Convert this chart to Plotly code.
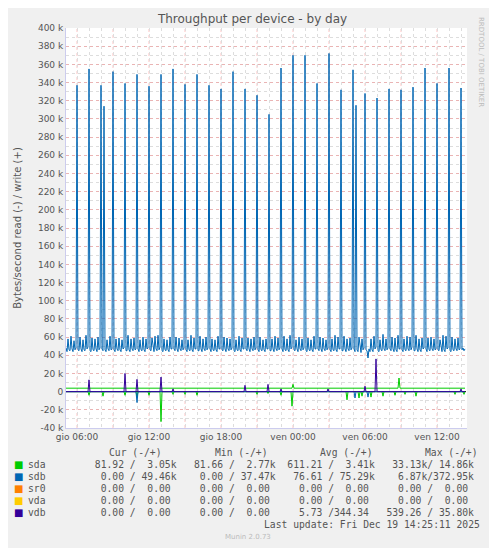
import plotly.graph_objects as go

# 5-minute samples, index 0 = gio 05:05 ; values in k (bytes/s / 1000)
sdb_write = [
    48, 44, 58, 46, 45, 61, 47, 44, 56, 46, 48, 337,
    46, 45, 60, 47, 44, 57, 46, 45, 62, 47, 49, 355,
    45, 44, 59, 46, 45, 58, 47, 44, 60, 46, 48, 337,
    47, 45, 314, 46, 44, 57, 47, 45, 61, 46, 47, 352,
    46, 44, 58, 47, 45, 59, 46, 44, 57, 47, 48, 339,
    45, 45, 62, 46, 44, 58, 47, 45, 59, 46, 47, 349,
    47, 44, 57, 46, 45, 60, 46, 44, 58, 47, 48, 336,
    46, 45, 59, 47, 44, 61, 47, 45, 62, 46, 49, 349,
    45, 44, 58, 46, 45, 57, 46, 44, 60, 47, 47, 355,
    47, 45, 60, 47, 44, 59, 47, 45, 57, 46, 48, 338,
    46, 44, 57, 46, 45, 62, 46, 44, 59, 47, 47, 349,
    45, 45, 61, 47, 44, 58, 47, 45, 60, 46, 48, 337,
    47, 44, 58, 46, 45, 57, 46, 44, 61, 47, 47, 333,
    46, 45, 60, 47, 44, 59, 47, 45, 58, 46, 48, 352,
    45, 44, 57, 46, 45, 61, 46, 44, 59, 47, 47, 333,
    47, 45, 59, 47, 44, 58, 47, 45, 60, 46, 48, 326,
    46, 44, 60, 46, 45, 57, 46, 44, 58, 47, 47, 305,
    45, 45, 58, 47, 44, 61, 47, 45, 59, 46, 48, 356,
    47, 44, 61, 46, 45, 58, 46, 44, 62, 47, 49, 370,
    46, 45, 57, 47, 44, 60, 47, 45, 58, 46, 48, 370,
    45, 44, 59, 46, 45, 57, 46, 44, 61, 47, 47, 339,
    47, 45, 60, 47, 44, 59, 47, 45, 57, 46, 48, 372,
    46, 44, 58, 46, 45, 62, 46, 44, 60, 47, 47, 332,
    45, 45, 61, 47, 44, 58, 47, 45, 59, 46, 48, 354,
    47, 44, 315, 46, 44, 60, 47, 43, 58, 46, 48, 328,
    46, 45, 37, 47, 44, 58, 46, 44, 61, 47, 49, 323,
    45, 44, 57, 46, 45, 63, 47, 45, 58, 46, 48, 333,
    47, 45, 60, 47, 44, 59, 46, 44, 62, 47, 47, 332,
    46, 44, 58, 46, 45, 61, 47, 45, 60, 46, 49, 335,
    45, 45, 62, 47, 44, 58, 46, 44, 59, 47, 48, 356,
    47, 44, 59, 46, 45, 60, 47, 45, 58, 46, 47, 339,
    46, 45, 57, 47, 44, 62, 46, 44, 61, 47, 48, 356,
    45, 44, 60, 46, 45, 58, 47, 45, 59, 46, 47, 334,
    46, 48, 45, 47,
]
n = len(sdb_write)

sdb_read_idx = [71, 289, 302]
sdb_read_val = [-12, -7, -6]

sda_write_level = 3.8
sda_write_idx = [227, 333]
sda_write_val = [8, 15]
sda_read_idx = [23, 37, 59, 71, 83, 95, 107, 119, 131, 191, 202, 215, 226,
                281, 293, 296, 305, 317, 329, 339, 350, 389, 398]
sda_read_val = [-4, -5, -4, -6, -4, -33, -3, -3, -4, -3, -2, -4, -16,
                -9, -7, -5, -6, -5, -4, -3, -5, -3, -3]

vdb_write_idx = [23, 59, 71, 95, 107, 179, 202, 215, 262, 299, 310, 395]
vdb_write_val = [13, 20, 13.5, 16, 3, 7, 8, 3, 3, 6, 36, 3]

time_ticks = [11, 83, 155, 227, 299, 371]
time_labels = ["gio 06:00", "gio 12:00", "gio 18:00", "ven 00:00", "ven 06:00", "ven 12:00"]

legend_rows = [
    ("sda", "#00CC00", [" 81.92 /  3.05k", " 81.66 /  2.77k", "611.21 /  3.41k", " 33.13k/ 14.86k"]),
    ("sdb", "#0066B3", ["  0.00 / 49.46k", "  0.00 / 37.47k", " 76.61 / 75.29k", "  6.87k/372.95k"]),
    ("sr0", "#FF8000", ["  0.00 /  0.00 ", "  0.00 /  0.00 ", "  0.00 /  0.00 ", "  0.00 /  0.00 "]),
    ("vda", "#FFCC00", ["  0.00 /  0.00 ", "  0.00 /  0.00 ", "  0.00 /  0.00 ", "  0.00 /  0.00 "]),
    ("vdb", "#330099", ["  0.00 /  0.00 ", "  0.00 /  0.00 ", "  5.73 /344.34 ", "539.26 / 35.80k"]),
]


def sparse(idx, val, base=0.0):
    s = [base] * n
    for i, v in zip(idx, val):
        s[i] = v
    return s


x = list(range(n))
# the page body has an 8px margin, so the figure is 8px smaller and shifted
OFF = 8
W, H = 497 - OFF, 548 - OFF
L, R, T, B = 66 - OFF, 467 - OFF, 28 - OFF, 428 - OFF


def px(xx):
    return (xx - OFF - L) / (R - L)


def py(yy):
    return (B - (yy - OFF)) / (B - T)


fig = go.Figure()
# major (3-hour) vertical grid in red
for v in range(11, n, 36):
    fig.add_shape(type="line", x0=v, x1=v, y0=0, y1=1, yref="paper", layer="below",
                  line=dict(color="rgba(255,120,120,0.45)", width=1, dash="dot"))
fig.add_trace(go.Scatter(x=[0, n], y=[0, 0], mode="lines", line=dict(color="black", width=1)))
series = [
    (sparse(sda_read_idx, sda_read_val), "#00CC00"),
    (sparse(sda_write_idx, sda_write_val, sda_write_level), "#00CC00"),
    (sparse(sdb_read_idx, sdb_read_val), "#0066B3"),
    (sdb_write, "#0066B3"),
    (sparse(vdb_write_idx, vdb_write_val), "#330099"),
]
for ys, c in series:
    fig.add_trace(go.Scatter(x=x, y=ys, mode="lines", line=dict(color=c, width=1)))

xt = list(range(11, n, 12))
xtext = [time_labels[time_ticks.index(v)] if v in time_ticks else "" for v in xt]
yt = list(range(-40, 401, 20))
ytext = [f"{v} k" if v != 0 else "0" for v in yt]

fig.update_xaxes(range=[0, 401], tickvals=xt, ticktext=xtext, showgrid=True,
                 gridcolor="#DDDDDD", griddash="dot", gridwidth=1, automargin=False,
                 zeroline=False, showline=True, linecolor="#CCCCEE", ticks="",
                 tickfont=dict(family="DejaVu Sans", size=9, color="#555555"))
fig.update_yaxes(range=[-40, 400], tickvals=yt, ticktext=ytext, showgrid=True,
                 gridcolor="rgba(255,120,120,0.4)", griddash="dot", automargin=False,
                 minor=dict(dtick=10, showgrid=True, gridcolor="#DDDDDD", griddash="dot"),
                 zeroline=False, showline=True, linecolor="#CCCCEE", ticks="",
                 tickfont=dict(family="DejaVu Sans", size=9, color="#555555"),
                 title=dict(text="Bytes/second read (-) / write (+)", standoff=14,
                            font=dict(family="DejaVu Sans", size=10, color="#555555")))

ann = []
mono = dict(family="DejaVu Sans Mono", size=9.7, color="#555555")
for hx, h in zip([107, 213, 318, 423], ["Cur (-/+)", "Min (-/+)", "Avg (-/+)", "Max (-/+)"]):
    ann.append(dict(x=px(hx), y=py(452), text=h, xanchor="left"))
for k, (name, col, cols) in enumerate(legend_rows):
    yy = py(464.7 + 12 * k)
    ann.append(dict(x=px(12), y=yy, text="■", xanchor="left", font=dict(family="DejaVu Sans", size=10, color=col)))
    ann.append(dict(x=px(26), y=yy, text=name, xanchor="left"))
    ann.append(dict(x=px(87), y=yy, text="\u00a0\u00a0".join(cols).replace(" ", "\u00a0"), xanchor="left"))
ann.append(dict(x=px(482), y=py(524.7), text="Last update: Fri Dec 19 14:25:11 2025", xanchor="right"))
ann.append(dict(x=px(248), y=py(537), text="Munin 2.0.73", xanchor="center",
                font=dict(family="DejaVu Sans", size=7, color="#BBBBBB")))
ann.append(dict(x=px(487), y=py(62), text="RRDTOOL / TOBI OETIKER", textangle=90,
                font=dict(family="DejaVu Sans", size=7, color="#BBBBBB")))
for a in ann:
    a.update(xref="paper", yref="paper", showarrow=False, yanchor="middle")
    a.setdefault("font", mono)
fig.update_layout(annotations=ann)

fig.update_layout(
    width=W, height=H, showlegend=False,
    margin=dict(l=L, r=W - R, t=T, b=H - B, autoexpand=False),
    paper_bgcolor="#F0F0F0", plot_bgcolor="white",
    title=dict(text="Throughput per device - by day", x=0.5, y=1 - 11 / H, xanchor="center", yanchor="middle",
               font=dict(family="DejaVu Sans", size=12, color="#555555")),
)
fig.write_html("out.html")
